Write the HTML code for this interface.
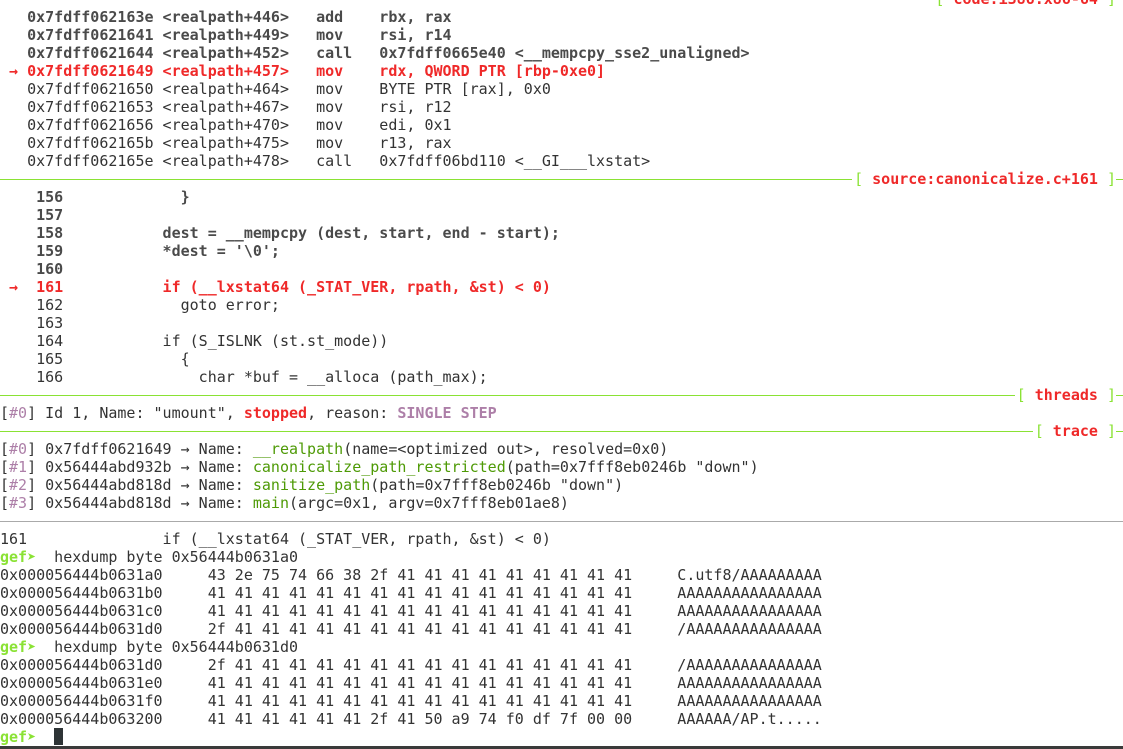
<!DOCTYPE html>
<html><head><meta charset="utf-8"><style>
html,body{margin:0;padding:0;background:#fff;width:1123px;height:749px;overflow:hidden}
#t{position:absolute;left:0;top:-10px;font-family:"DejaVu Sans Mono","Liberation Mono",monospace;font-size:15px;color:#333;}
.r{height:18px;line-height:18px;white-space:pre;position:relative;width:1123px}
.b{font-weight:bold;color:#4a4a4a}
.red{color:#ef2929;font-weight:bold}
.pu{color:#ad7fa8}
.g{color:#4e9a06}
.gp{color:#8ae234;font-weight:bold}
.sep::before{content:"";position:absolute;left:0;right:0;top:9px;border-top:1px solid #8ae234}
.sep span.l{position:absolute;right:7px;top:0;background:#fff;padding-left:2px}
.br{color:#8ae234}
.gl::before{content:"";position:absolute;left:0;right:0;top:9px;border-top:1px solid #aaa}
.cur{display:inline-block;width:9px;height:17px;background:#2e3436;vertical-align:top}
#bot{position:absolute;left:0;top:746px;width:1123px;height:3px;background:#3a3a3a}
</style></head><body><div id="t">
<div class="r sep"><span class="l"><span class="br">[</span> <span class="red">code:i386:x86-64</span> <span class="br">]</span></span></div>
<div class="r b">   0x7fdff062163e &lt;realpath+446&gt;   add    rbx, rax</div>
<div class="r b">   0x7fdff0621641 &lt;realpath+449&gt;   mov    rsi, r14</div>
<div class="r b">   0x7fdff0621644 &lt;realpath+452&gt;   call   0x7fdff0665e40 &lt;__mempcpy_sse2_unaligned&gt;</div>
<div class="r red"> → 0x7fdff0621649 &lt;realpath+457&gt;   mov    rdx, QWORD PTR [rbp-0xe0]</div>
<div class="r">   0x7fdff0621650 &lt;realpath+464&gt;   mov    BYTE PTR [rax], 0x0</div>
<div class="r">   0x7fdff0621653 &lt;realpath+467&gt;   mov    rsi, r12</div>
<div class="r">   0x7fdff0621656 &lt;realpath+470&gt;   mov    edi, 0x1</div>
<div class="r">   0x7fdff062165b &lt;realpath+475&gt;   mov    r13, rax</div>
<div class="r">   0x7fdff062165e &lt;realpath+478&gt;   call   0x7fdff06bd110 &lt;__GI___lxstat&gt;</div>
<div class="r sep"><span class="l"><span class="br">[</span> <span class="red">source:canonicalize.c+161</span> <span class="br">]</span></span></div>
<div class="r b">    156             }</div>
<div class="r b">    157</div>
<div class="r b">    158           dest = __mempcpy (dest, start, end - start);</div>
<div class="r b">    159           *dest = '\0';</div>
<div class="r b">    160</div>
<div class="r red"> →  161           if (__lxstat64 (_STAT_VER, rpath, &amp;st) &lt; 0)</div>
<div class="r">    162             goto error;</div>
<div class="r">    163</div>
<div class="r">    164           if (S_ISLNK (st.st_mode))</div>
<div class="r">    165             {</div>
<div class="r">    166               char *buf = __alloca (path_max);</div>
<div class="r sep"><span class="l"><span class="br">[</span> <span class="red">threads</span> <span class="br">]</span></span></div>
<div class="r">[<span class="pu">#0</span>] Id 1, Name: "umount", <span class="red">stopped</span>, reason: <span class="pu" style="font-weight:bold">SINGLE STEP</span></div>
<div class="r sep"><span class="l"><span class="br">[</span> <span class="red">trace</span> <span class="br">]</span></span></div>
<div class="r">[<span class="pu">#0</span>] 0x7fdff0621649 → Name: <span class="g">__realpath</span>(name=&lt;optimized out&gt;, resolved=0x0)</div>
<div class="r">[<span class="pu">#1</span>] 0x56444abd932b → Name: <span class="g">canonicalize_path_restricted</span>(path=0x7fff8eb0246b "down")</div>
<div class="r">[<span class="pu">#2</span>] 0x56444abd818d → Name: <span class="g">sanitize_path</span>(path=0x7fff8eb0246b "down")</div>
<div class="r">[<span class="pu">#3</span>] 0x56444abd818d → Name: <span class="g">main</span>(argc=0x1, argv=0x7fff8eb01ae8)</div>
<div class="r gl"></div>
<div class="r">161               if (__lxstat64 (_STAT_VER, rpath, &amp;st) &lt; 0)</div>
<div class="r"><span class="gp">gef➤</span>  hexdump byte 0x56444b0631a0</div>
<div class="r">0x000056444b0631a0     43 2e 75 74 66 38 2f 41 41 41 41 41 41 41 41 41     C.utf8/AAAAAAAAA</div>
<div class="r">0x000056444b0631b0     41 41 41 41 41 41 41 41 41 41 41 41 41 41 41 41     AAAAAAAAAAAAAAAA</div>
<div class="r">0x000056444b0631c0     41 41 41 41 41 41 41 41 41 41 41 41 41 41 41 41     AAAAAAAAAAAAAAAA</div>
<div class="r">0x000056444b0631d0     2f 41 41 41 41 41 41 41 41 41 41 41 41 41 41 41     /AAAAAAAAAAAAAAA</div>
<div class="r"><span class="gp">gef➤</span>  hexdump byte 0x56444b0631d0</div>
<div class="r">0x000056444b0631d0     2f 41 41 41 41 41 41 41 41 41 41 41 41 41 41 41     /AAAAAAAAAAAAAAA</div>
<div class="r">0x000056444b0631e0     41 41 41 41 41 41 41 41 41 41 41 41 41 41 41 41     AAAAAAAAAAAAAAAA</div>
<div class="r">0x000056444b0631f0     41 41 41 41 41 41 41 41 41 41 41 41 41 41 41 41     AAAAAAAAAAAAAAAA</div>
<div class="r">0x000056444b063200     41 41 41 41 41 41 2f 41 50 a9 74 f0 df 7f 00 00     AAAAAA/AP.t.....</div>
<div class="r"><span class="gp">gef➤</span>  <span class="cur"></span></div>
</div><div id="bot"></div></body></html>
